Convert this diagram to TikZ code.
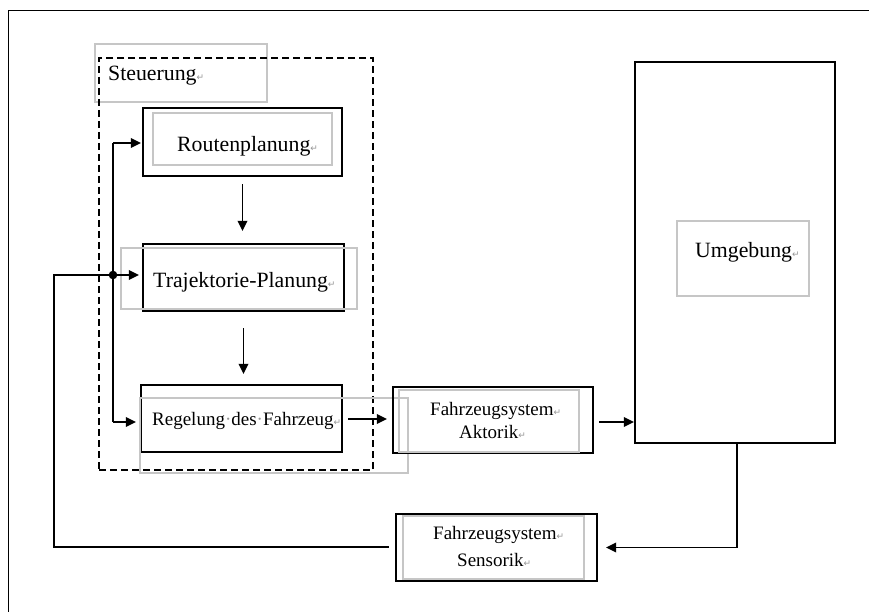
\documentclass[tikz,border=0pt]{standalone}
\usepackage{fontspec}
\setmainfont{Liberation Serif}
\newfontfamily\markfont{DejaVu Sans}
\usetikzlibrary{arrows.meta}
\definecolor{boxgray}{RGB}{198,198,198}
\definecolor{markgray}{RGB}{150,150,150}
\newcommand{\pmk}{{\color{markgray}\fontsize{9}{9}\markfont ↵}}
\newcommand{\spk}{{\color{markgray}·}}
\begin{document}
\begin{tikzpicture}[x=1pt,y=-1pt,
  bx/.style={draw=black,line width=2.2pt,inner sep=0pt,fill=none},
  gbx/.style={draw=boxgray,line width=1.1pt,inner sep=0pt},
  conn/.style={line width=1.8pt},
  arr/.style={line width=1.8pt,-{Triangle[length=10pt,width=9.5pt]}},
  big/.style={anchor=base west,inner sep=0pt,font=\fontsize{21.8}{26}\selectfont},
  small/.style={anchor=base west,inner sep=0pt,font=\fontsize{19}{23}\selectfont}]
\useasboundingbox (0,0) rectangle (869,612);
\fill[white] (0,0) rectangle (869,612);
% outer frame
\draw[line width=1pt] (8,612) -- (8,11) -- (869,11);
% Steuerung label box
\node[gbx,minimum width=172pt,minimum height=58pt] (G0) at (181,73) {};
\node[big] (tSt) at (108,81) {Steuerung\pmk};
% dashed control region
\node[draw,line width=2pt,dash pattern=on 7pt off 4pt,inner sep=0pt,minimum width=274pt,minimum height=412pt] (D) at (236,264) {};
% Routenplanung
\node[bx,minimum width=199pt,minimum height=68pt] (R) at (242.5,142) {};
\node[gbx,minimum width=179pt,minimum height=52pt] (Ri) at (242.5,139) {};
\node[big] (tR) at (177,152) {Routenplanung\pmk};
% Trajektorie-Planung
\node[bx,minimum width=201pt,minimum height=67pt] (T) at (243.5,277.5) {};
\node[gbx,minimum width=236pt,minimum height=61pt] (Ti) at (239,278.5) {};
\node[big] (tT) at (153,287) {Trajektorie-Planung\pmk};
% Regelung
\node[bx,minimum width=201pt,minimum height=67pt] (Reg) at (241.5,418.5) {};
\node[gbx,minimum width=268pt,minimum height=75pt] (Regi) at (274,435.5) {};
\node[small] (tReg) at (152,425) {Regelung\spk des\spk Fahrzeug\pmk};
% Aktorik
\node[bx,minimum width=200pt,minimum height=66pt] (A) at (493,420) {};
\node[gbx,minimum width=180pt,minimum height=62pt] (Ai) at (489,421) {};
\node[small] (tA1) at (430,415) {Fahrzeugsystem\pmk};
\node[small] (tA2) at (459,438) {Aktorik\pmk};
% Sensorik
\node[bx,minimum width=201pt,minimum height=67pt] (S) at (496.5,547.5) {};
\node[gbx,minimum width=181pt,minimum height=63pt] (Si) at (493.5,547.5) {};
\node[small] (tS1) at (433,539) {Fahrzeugsystem\pmk};
\node[small] (tS2) at (457,566) {Sensorik\pmk};
% Umgebung
\node[bx,minimum width=200pt,minimum height=381pt] (U) at (735,252.5) {};
\node[gbx,minimum width=132pt,minimum height=75pt] (Ui) at (743,258.5) {};
\node[big] (tU) at (695,257) {Umgebung\pmk};
% connectors
\coordinate (J) at (113,275);
\coordinate (Jt) at (113,143);
\coordinate (Jb) at (113,422);
\coordinate (FL) at (54,547);
\draw[arr,shorten <=7pt,shorten >=12pt] (R.south) -- (R.south |- T.north);
\draw[arr,shorten <=16pt,shorten >=10pt] (T.south) -- (T.south |- Reg.north);
\draw[conn] ([xshift=-6pt]S.west |- FL) -- (FL) -- (FL |- J) -- (J);
\draw[arr,shorten >=3pt] (J) -- (J -| T.west);
\fill (J) circle (4.3pt);
\draw[conn] (Jt) -- (Jb);
\draw[arr,shorten >=1pt] (Jt) -- (Jt -| R.west);
\draw[arr,shorten >=4pt] (Jb) -- (Jb -| Reg.west);
\draw[arr,shorten <=5pt,shorten >=5pt] ([yshift=-0.5pt]Reg.east) -- ([yshift=-0.5pt]Reg.east -| A.west);
\draw[arr,shorten <=5pt] ([yshift=-2pt]A.east) -- ([yshift=-2pt]A.east -| U.west);
\draw[arr,shorten >=8pt] ([xshift=2pt]U.south) |- (S.east);
\end{tikzpicture}
\end{document}
